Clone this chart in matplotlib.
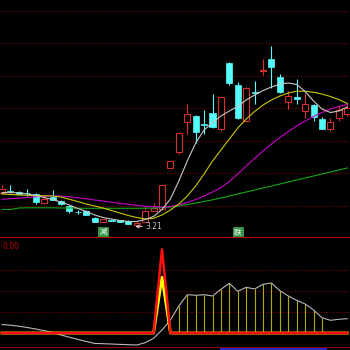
import matplotlib
matplotlib.use('Agg')
import matplotlib.pyplot as plt
from matplotlib.patches import Rectangle
import numpy as np

plt.rcParams['font.family'] = ['Noto Sans CJK SC', 'DejaVu Sans']

# ---------------- data ----------------
opens = [3.551, 3.571, 3.561, 3.551, 3.536, 3.449, 3.508, 3.466, 3.416, 3.361,
         3.363, 3.301, 3.261, 3.281, 3.273, 3.266, 3.226, 3.261, 3.369, 3.391,
         3.793, 3.959, 4.256, 4.316, 4.241, 4.351, 4.191, 4.846, 4.631, 4.271,
         4.561, 4.766, 4.886, 4.706, 4.453, 4.509, 4.369, 4.426, 4.283, 4.191,
         4.296, 4.336]
closes = [3.591, 3.556, 3.536, 3.546, 3.461, 3.483, 3.473, 3.433, 3.361, 3.356,
          3.323, 3.261, 3.284, 3.266, 3.253, 3.236, 3.246, 3.371, 3.401, 3.628,
          3.871, 4.151, 4.341, 4.156, 4.231, 4.206, 4.511, 4.643, 4.293, 4.601,
          4.551, 4.773, 4.809, 4.556, 4.518, 4.486, 4.436, 4.309, 4.183, 4.253,
          4.371, 4.401]
highs = [3.626, 3.631, 3.566, 3.581, 3.546, 3.511, 3.576, 3.471, 3.421, 3.381,
         3.381, 3.306, 3.286, 3.286, 3.276, 3.271, 3.251, 3.411, 3.446, 3.631,
         3.876, 4.156, 4.436, 4.326, 4.376, 4.536, 4.521, 4.856, 4.661, 4.606,
         4.666, 4.881, 5.016, 4.736, 4.566, 4.681, 4.549, 4.431, 4.306, 4.291,
         4.416, 4.446]
lows = [3.536, 3.546, 3.531, 3.516, 3.441, 3.446, 3.471, 3.426, 3.341, 3.336,
        3.321, 3.256, 3.256, 3.261, 3.251, 3.231, 3.210, 3.251, 3.366, 3.386,
        3.791, 3.941, 4.136, 4.043, 4.136, 4.196, 4.166, 4.626, 4.286, 4.256,
        4.441, 4.726, 4.596, 4.546, 4.381, 4.436, 4.291, 4.271, 4.181, 4.166,
        4.266, 4.316]

ma5 = [3.551, 3.551, 3.546, 3.536, 3.521, 3.501, 3.481, 3.456, 3.426, 3.391,
       3.361, 3.326, 3.301, 3.286, 3.271, 3.261, 3.261, 3.281, 3.311, 3.381,
       3.486, 3.666, 3.866, 4.046, 4.176, 4.251, 4.316, 4.366, 4.411, 4.476,
       4.526, 4.571, 4.606, 4.636, 4.646, 4.631, 4.561, 4.466, 4.386, 4.351,
       4.366, 4.406]
ma10 = [3.536, 3.531, 3.526, 3.523, 3.520, 3.518, 3.516, 3.506, 3.483, 3.461,
        3.436, 3.416, 3.396, 3.371, 3.346, 3.321, 3.301, 3.286, 3.293, 3.326,
        3.376, 3.436, 3.516, 3.616, 3.736, 3.866, 3.976, 4.086, 4.196, 4.286,
        4.361, 4.426, 4.476, 4.516, 4.546, 4.564, 4.564, 4.553, 4.536, 4.511,
        4.481, 4.441]
ma20 = [3.483, 3.488, 3.494, 3.501, 3.508, 3.514, 3.518, 3.516, 3.508, 3.498,
        3.488, 3.476, 3.466, 3.453, 3.443, 3.433, 3.423, 3.414, 3.408, 3.406,
        3.411, 3.426, 3.451, 3.481, 3.516, 3.556, 3.601, 3.661, 3.736, 3.816,
        3.891, 3.966, 4.036, 4.101, 4.161, 4.216, 4.266, 4.311, 4.351, 4.386,
        4.411, 4.431]
ma60 = [3.381, 3.381, 3.396, 3.398, 3.398, 3.398, 3.398, 3.396, 3.396, 3.394,
        3.393, 3.393, 3.393, 3.393, 3.393, 3.393, 3.393, 3.394, 3.396, 3.401,
        3.406, 3.416, 3.431, 3.446, 3.461, 3.478, 3.496, 3.516, 3.536, 3.556,
        3.576, 3.596, 3.616, 3.636, 3.656, 3.676, 3.696, 3.716, 3.736, 3.756,
        3.776, 3.796]

osc_line = [8.5, 7.8, 6.8, 5.5, 4.0, 2.3, 0.7, -2.0, -4.2, -6.4,
            -8.5, -10.4, -10.7, -11.0, -11.4, -11.7, -12.0, -9.7, -5.3, 3.0,
            13.0, 27.0, 38.3, 37.7, 38.3, 37.0, 43.7, 49.7, 41.7, 45.7,
            44.0, 48.7, 50.0, 42.3, 37.0, 32.7, 29.0, 23.0, 15.3, 12.7,
            13.7, 14.3]
stick_on = [0]*21 + [1]*18 + [0]*3
spike_red = [0]*19 + [83.7] + [0]*22
spike_yellow = [0]*19 + [55.7] + [0]*22

signal_idx = [12, 28]
signal_txt = ['减', '跌']
signal_level = 3.157
price_grid = [3.416, 3.741, 4.066, 4.391, 4.716, 5.041, 5.366]
osc_grid = [21, 42, 63]

# ---------------- colours ----------------
RED = '#D43030'
CYAN = '#54FCFC'
GRID = '#A00000'

fig = plt.figure(figsize=(3.5, 3.5), dpi=100, facecolor='black')
ax = fig.add_axes([0, 113/350, 1, 237/350])
ax2 = fig.add_axes([0, 3/350, 1, 110/350])
ax3 = fig.add_axes([0, 0, 1, 3/350])
for a in (ax, ax2, ax3):
    a.set_facecolor('black')
    a.set_xticks([]); a.set_yticks([])
    for s in a.spines.values():
        s.set_visible(False)
    a.set_xlim(-0.24, 41.33)

# ---------------- main panel ----------------
ax.set_ylim(3.106, 5.476)
for g in price_grid:
    ax.axhline(g, color=GRID, lw=0.7, ls=(0, (1, 2)), zorder=0)

x = np.arange(len(opens))
o = np.array(opens); c = np.array(closes); h = np.array(highs); l = np.array(lows)
up = c >= o
dn = ~up
w = 0.72
ax.vlines(x[up], c[up], h[up], color=RED, lw=0.8, zorder=2)
ax.vlines(x[up], l[up], o[up], color=RED, lw=0.8, zorder=2)
ax.bar(x[up], c[up] - o[up], bottom=o[up], width=w, facecolor='black',
       edgecolor=RED, linewidth=0.8, zorder=3)
ax.vlines(x[dn], l[dn], h[dn], color=CYAN, lw=0.8, zorder=2)
ax.bar(x[dn], c[dn] - o[dn], bottom=o[dn], width=w, facecolor=CYAN,
       edgecolor=CYAN, linewidth=0.5, zorder=3)

ax.plot(x, ma60, color='#10A810', lw=0.8, zorder=4)
ax.plot(x, ma20, color='#C800C8', lw=0.8, zorder=4)
ax.plot(x, ma10, color='#C8C800', lw=0.8, zorder=4)
ax.plot(x, ma5, color='#C8C8C8', lw=0.8, zorder=4)

low_i = int(np.argmin(l))
ax.annotate(f'{l[low_i]:.2f}', xy=(low_i - 0.15, l[low_i]), xytext=(low_i + 1.0, l[low_i]),
            color='#C8C8C8', fontsize=5.5, va='center', ha='left',
            family=['DejaVu Sans'],
            arrowprops=dict(arrowstyle='->', color='#E0E0E0', lw=0.6,
                            shrinkA=0, shrinkB=0), zorder=6)

for i, t in zip(signal_idx, signal_txt):
    ax.text(i, signal_level, t, color='white', fontsize=5.5, ha='center', va='center',
            bbox=dict(boxstyle='square,pad=0.15', facecolor='#2E9A48', edgecolor='#60C070',
                      lw=0.4), zorder=6)

# ---------------- oscillator panel ----------------
ax2.set_ylim(-14, 96)
ax2.spines['top'].set_visible(True)
ax2.spines['top'].set_color('#B00000')
ax2.spines['top'].set_linewidth(0.8)
for g in osc_grid:
    ax2.axhline(g, color=GRID, lw=0.7, ls=(0, (1, 2)), zorder=0)
osc = np.array(osc_line)
mask = np.array(stick_on, dtype=bool)
ax2.vlines(x[mask], 0, osc[mask], color='#B0AC00', lw=0.8, zorder=2)
ax2.plot(x, osc, color='#B8B8B8', lw=0.8, zorder=3)
ax2.plot(x, spike_yellow, color='#FFFF00', lw=2.0, zorder=4)
ax2.plot(x, spike_red, color='#FF1010', lw=1.8, zorder=5)
ax2.text(0.008, 0.955, '0.00', transform=ax2.transAxes, color='#C00000',
         fontsize=5.5, va='top', ha='left', family=['DejaVu Sans'])

# ---------------- bottom strip ----------------
ax3.set_ylim(0, 1)
ax3.spines['top'].set_visible(True)
ax3.spines['top'].set_color('#800000')
ax3.spines['top'].set_linewidth(0.8)
ax3.add_patch(Rectangle((220/350, 0), 107/350, 1, transform=ax3.transAxes,
                        facecolor='#2828C0', edgecolor='none'))

fig.savefig('out.png', dpi=100, facecolor='black')
